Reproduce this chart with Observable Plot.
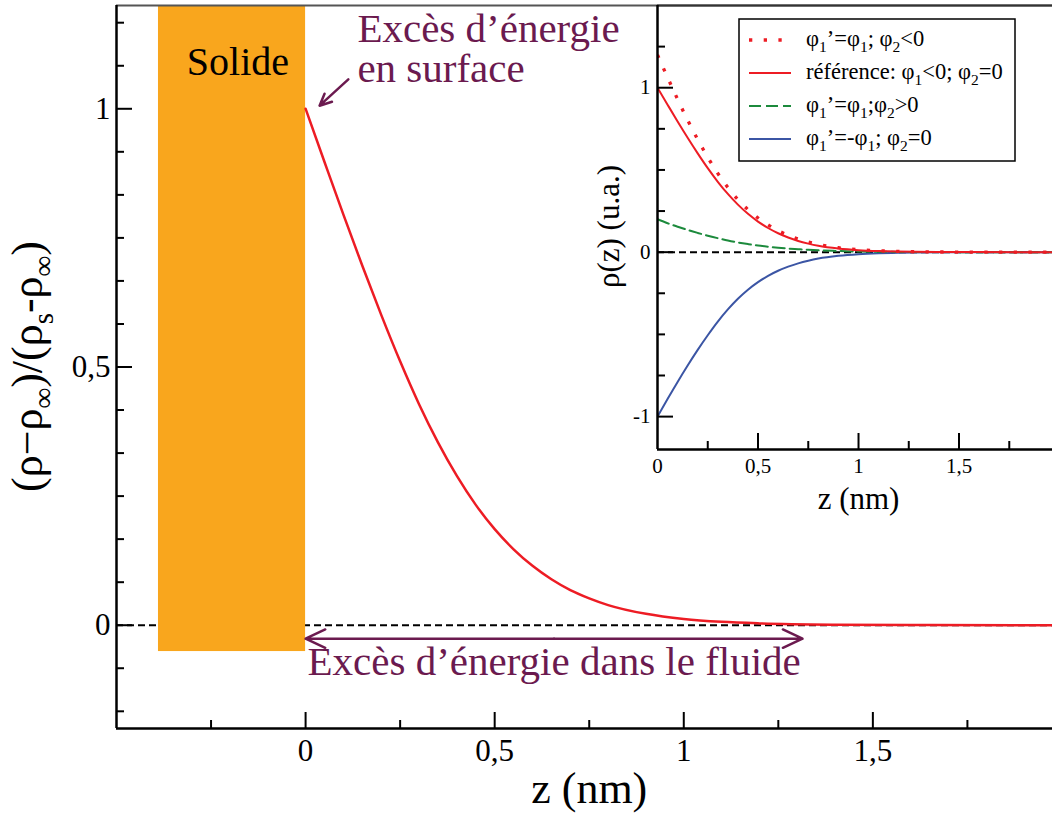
<!DOCTYPE html>
<html><head><meta charset="utf-8">
<script src="https://cdn.jsdelivr.net/npm/d3@7"></script>
<script src="https://cdn.jsdelivr.net/npm/@observablehq/plot@0.6"></script>
<style>
html,body{margin:0;padding:0;background:#fff;overflow:hidden;}
#wrap{position:relative;width:1052px;height:819px;overflow:hidden;}
#wrap svg{position:absolute;top:0;}
</style></head><body><div id="wrap"></div>
<script>
// ---------- data ----------
const zGrid = [0, 0.05, 0.1, 0.15, 0.2, 0.25, 0.3, 0.35, 0.4, 0.45, 0.5, 0.55, 0.6, 0.65, 0.7, 0.75, 0.8, 0.9, 1.0, 1.1, 1.2, 1.4, 1.6, 2.0];
// reference profile (main chart and inset solid red)
const rhoRef   = [1.0, 0.897, 0.795, 0.696, 0.601, 0.511, 0.428, 0.354, 0.289, 0.233, 0.186, 0.147, 0.115, 0.089, 0.068, 0.052, 0.039, 0.022, 0.012, 0.0065, 0.0035, 0.001, 0.0003, 0];
// phi1'=phi1 ; phi2<0 (dotted red)
const rhoDot   = [1.2, 1.063, 0.93, 0.803, 0.685, 0.577, 0.479, 0.393, 0.32, 0.259, 0.208, 0.166, 0.131, 0.103, 0.080, 0.062, 0.047, 0.027, 0.015, 0.0085, 0.0045, 0.0012, 0.0003, 0];
// phi1'=phi1 ; phi2>0 (dashed green)
const rhoGreen = [0.2, 0.176, 0.155, 0.135, 0.117, 0.10, 0.085, 0.071, 0.059, 0.049, 0.04, 0.033, 0.027, 0.022, 0.018, 0.014, 0.011, 0.007, 0.004, 0.0025, 0.0015, 0.0005, 0.0001, 0];
// phi1'=-phi1 ; phi2=0 (blue)
const rhoBlue  = [-1.0, -0.893, -0.789, -0.689, -0.594, -0.505, -0.422, -0.348, -0.283, -0.228, -0.182, -0.144, -0.113, -0.088, -0.068, -0.052, -0.039, -0.022, -0.012, -0.0065, -0.0035, -0.001, -0.0003, 0];

const mainXLabelTicks = [0, 0.5, 1, 1.5];
const mainXMinorTicks = [-0.25, 0.25, 0.75, 1.25, 1.75];
const mainYLabelTicks = [0, 0.5, 1];
const mainYMinorTicks = [-0.1667, -0.0833, 0.0833, 0.1667, 0.25, 0.3333, 0.4167, 0.5833, 0.6667, 0.75, 0.8333, 0.9167, 1.0833, 1.1667];
const insetXLabelTicks = [0, 0.5, 1, 1.5];
const insetXMajorTicks = [0.5, 1, 1.5];
const insetXMinorTicks = [0.25, 0.75, 1.25, 1.75];
const insetYLabelTicks = [-1, 0, 1];
const insetYMinorTicks = [-0.75, -0.5, -0.25, 0.25, 0.5, 0.75, 1.25];

const legendLabels = [
  [["φ"],["1","s"],["’=φ"],["1","s"],["; φ"],["2","s"],["<0"]],
  [["référence: φ"],["1","s"],["<0; φ"],["2","s"],["=0"]],
  [["φ"],["1","s"],["’=φ"],["1","s"],[";φ"],["2","s"],[">0"]],
  [["φ"],["1","s"],["’=-φ"],["1","s"],["; φ"],["2","s"],["=0"]]
];

const solidBlock = [{x1: -0.389, x2: 0, y1: -0.051, y2: 1.2}];
const centeredNotes = [{x: -0.179, y: 1.066, text: "Solide"}];
const purpleNotes = [
  {x: 0.137, y: 1.051, text: "Excès d’énergie\nen surface"},
  {x: 0.005, y: -0.097, text: "Excès d’énergie dans le fluide"}
];
const arrows = [
  {x1: 0.113, y1: 1.057, x2: 0.037, y2: 1.006},
  {x1: 0.657, y1: -0.026, x2: 0.0, y2: -0.026},
  {x1: 0.657, y1: -0.026, x2: 1.314, y2: -0.026}
];

// ---------- styles ----------
const serif = "'Liberation Serif', 'Times New Roman', serif";
const RED = "#ed1c24", GREEN = "#1c8a3c", BLUE = "#3b55a4", ORANGE = "#f9a61d", PURPLE = "#6b1a4f";
const fmt = d => String(d).replace(".", ",");
const rows = zGrid.map((z, i) => ({z, ref: rhoRef[i], dot: rhoDot[i], green: rhoGreen[i], blue: rhoBlue[i]}));

// ---------- main chart ----------
const W = 1052, H = 819, mL = 116, mT = 5, mB = 91, mR = 0;
const pw = W - mL - mR, ph = H - mT - mB;
const main = Plot.plot({
  width: W, height: H, marginLeft: mL, marginRight: mR, marginTop: mT, marginBottom: mB,
  x: {domain: [-0.5, 1.975], axis: null},
  y: {domain: [-0.2, 1.2], axis: null},
  style: {fontFamily: serif, background: "white", overflow: "visible"},
  marks: [
    Plot.ruleY([0], {stroke: "black", strokeWidth: 2, strokeDasharray: "7,4"}),
    Plot.rect(solidBlock, {x1: "x1", x2: "x2", y1: "y1", y2: "y2", fill: ORANGE}),
    Plot.line(rows, {x: "z", y: "ref", stroke: RED, strokeWidth: 2.5, curve: "monotone-x", clip: true}),
    Plot.arrow(arrows, {x1: "x1", y1: "y1", x2: "x2", y2: "y2", stroke: PURPLE, strokeWidth: 2.5, headLength: 13, headAngle: 50}),
    Plot.text(centeredNotes, {x: "x", y: "y", text: "text", fill: "black", textAnchor: "middle", lineAnchor: "bottom", fontSize: 40}),
    Plot.text(purpleNotes, {x: "x", y: "y", text: "text", fill: PURPLE, textAnchor: "start", lineAnchor: "bottom", lineHeight: 0.98, fontSize: 41}),
    Plot.text(["z (nm)"], {x: 0.75, y: -0.345, lineAnchor: "bottom", fontSize: 44, fill: "black"}),
    // frame + axes
    Plot.ruleY([1.2], {stroke: "#555", strokeWidth: 2}),
    Plot.ruleX(mainXMinorTicks, {stroke: "black", strokeWidth: 2, insetTop: ph - 8}),
    Plot.ruleX(mainXLabelTicks, {stroke: "black", strokeWidth: 2, insetTop: ph - 16}),
    Plot.ruleY(mainYMinorTicks, {stroke: "black", strokeWidth: 2, insetRight: pw - 8}),
    Plot.ruleY(mainYLabelTicks, {stroke: "black", strokeWidth: 2, insetRight: pw - 16}),
    Plot.ruleX([-0.5], {stroke: "black", strokeWidth: 2.5}),
    Plot.ruleY([-0.2], {stroke: "black", strokeWidth: 2.5}),
    Plot.axisX({ticks: mainXLabelTicks, tickSize: 0, tickPadding: 10, tickFormat: fmt, fontSize: 31, label: null}),
    Plot.axisY({ticks: mainYLabelTicks, tickSize: 0, tickPadding: 6, tickFormat: fmt, fontSize: 31, label: null})
  ]
});
main.style.left = "0px";
document.getElementById("wrap").appendChild(main);

// text with subscripts
function richText(sel, parts, subSize, shift) {
  let down = false;
  parts.forEach(p => {
    const t = sel.append("tspan").text(p[0]);
    if (p[1] === "s") {
      t.attr("font-size", subSize).attr("dy", down ? 0 : shift); down = true;
    } else if (down) {
      t.attr("dy", -shift); down = false;
    }
  });
}
{
  const yr = main.scale("y").range;
  const cy = (yr[0] + yr[1]) / 2;
  const t = d3.select(main).append("text")
    .attr("transform", `translate(42,${cy}) rotate(-90)`)
    .attr("text-anchor", "middle").attr("font-size", 44).attr("font-family", serif).attr("fill", "black");
  richText(t, [["(ρ−ρ"],["∞","s"],[")/(ρ"],["s","s"],["-ρ"],["∞","s"],[")"]], 29, 11);
}

// ---------- inset ----------
const iW = 492, iH = 520, iL = 97, iT = 5, iB = 71;
const ipw = iW - iL, iph = iH - iT - iB;
const inset = Plot.plot({
  width: iW, height: iH, marginLeft: iL, marginRight: 0, marginTop: iT, marginBottom: iB,
  x: {domain: [0, 1.965], axis: null},
  y: {domain: [-1.2, 1.5], axis: null},
  style: {fontFamily: serif, background: "transparent", overflow: "visible"},
  marks: [
    Plot.ruleY([0], {stroke: "black", strokeWidth: 2, strokeDasharray: "7,4"}),
    Plot.line(rows, {x: "z", y: "blue", stroke: BLUE, strokeWidth: 2, curve: "monotone-x", clip: true}),
    Plot.line(rows, {x: "z", y: "green", stroke: GREEN, strokeWidth: 2, strokeDasharray: "12,5", curve: "monotone-x", clip: true}),
    Plot.line(rows, {x: "z", y: "ref", stroke: RED, strokeWidth: 2, curve: "monotone-x", clip: true}),
    Plot.line(rows, {x: "z", y: "dot", stroke: RED, strokeWidth: 3.3, strokeDasharray: "3.3,11.4", strokeLinecap: "butt", curve: "monotone-x", clip: true}),
    Plot.text(["z (nm)"], {x: 1.0, y: -1.559, lineAnchor: "bottom", fontSize: 31, fill: "black"}),
    Plot.text(["ρ(z) (u.a.)"], {x: -0.194, y: 0.156, rotate: -90, lineAnchor: "bottom", fontSize: 31, fill: "black"}),
    Plot.ruleY([1.5], {stroke: "#333", strokeWidth: 2}),
    Plot.ruleX(insetXMinorTicks, {stroke: "black", strokeWidth: 2, insetTop: iph - 8}),
    Plot.ruleX(insetXMajorTicks, {stroke: "black", strokeWidth: 2, insetTop: iph - 16}),
    Plot.ruleY(insetYMinorTicks, {stroke: "black", strokeWidth: 2, insetRight: ipw - 8}),
    Plot.ruleY(insetYLabelTicks, {stroke: "black", strokeWidth: 2, insetRight: ipw - 16}),
    Plot.ruleX([0], {stroke: "black", strokeWidth: 2.5}),
    Plot.ruleY([-1.2], {stroke: "black", strokeWidth: 2.5}),
    Plot.axisX({ticks: insetXLabelTicks, tickSize: 0, tickPadding: 9, tickFormat: fmt, fontSize: 21, label: null}),
    Plot.axisY({ticks: insetYLabelTicks, tickSize: 0, tickPadding: 7, tickFormat: fmt, fontSize: 21, label: null})
  ]
});
inset.style.left = "560px";
document.getElementById("wrap").appendChild(inset);

// legend inside inset
{
  const g = d3.select(inset).append("g");
  g.append("rect").attr("x", 179).attr("y", 19).attr("width", 276).attr("height", 142)
    .attr("fill", "white").attr("stroke", "black").attr("stroke-width", 1.5);
  const styles = [
    {stroke: RED, w: 3.3, dash: "3.3,11.4"},
    {stroke: RED, w: 2, dash: null},
    {stroke: GREEN, w: 2, dash: "12,5"},
    {stroke: BLUE, w: 2.2, dash: null}
  ];
  const ys = [40, 73, 106, 139];
  legendLabels.forEach((parts, i) => {
    const s = styles[i];
    const l = g.append("line").attr("x1", 189).attr("x2", 231).attr("y1", ys[i]).attr("y2", ys[i])
      .attr("stroke", s.stroke).attr("stroke-width", s.w);
    if (s.dash) l.attr("stroke-dasharray", s.dash);
    const t = g.append("text").attr("x", 246).attr("y", ys[i] + 6).attr("text-anchor", "start")
      .attr("font-size", 22.5).attr("font-family", serif).attr("fill", "black");
    richText(t, parts, 15.5, 6);
  });
}
</script>
</body></html>
